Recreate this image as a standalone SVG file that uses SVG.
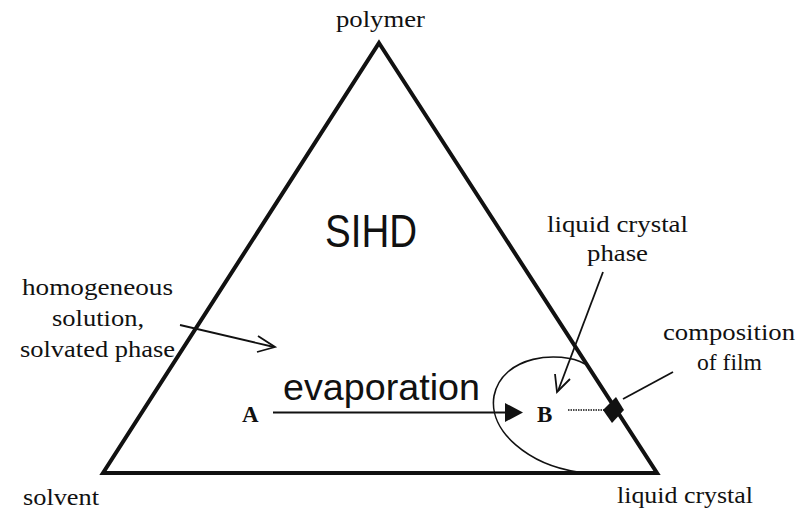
<svg xmlns="http://www.w3.org/2000/svg" width="809" height="510" viewBox="0 0 809 510">
<defs>
<style>
.serif{font-family:"Liberation Serif","Times New Roman",serif;font-size:24px;fill:#111}
.bold{font-family:"Liberation Serif","Times New Roman",serif;font-size:23px;font-weight:bold;fill:#111}
.sans{font-family:"Liberation Sans",Arial,sans-serif;fill:#111}
.ln{fill:none;stroke:#111;stroke-width:2}
.open{fill:none;stroke:#111;stroke-width:1.8;stroke-linejoin:miter}
</style>
</defs>
<rect width="809" height="510" fill="#fff"/>
<g id="triangle">
<polygon points="379,43 657,473 103,473" fill="none" stroke="#111" stroke-width="4" stroke-linejoin="miter"/>
</g>
<g id="lc-region">
<path d="M585,364 C560,350 502,355 494,396 C488,432 530,465 578,472" fill="none" stroke="#111" stroke-width="1.6"/>
</g>
<g id="labels">
<text class="serif" x="336" y="27" textLength="89" lengthAdjust="spacingAndGlyphs">polymer</text>
<text class="serif" x="23" y="505" textLength="76" lengthAdjust="spacingAndGlyphs">solvent</text>
<text class="serif" x="617" y="503" textLength="136" lengthAdjust="spacingAndGlyphs">liquid crystal</text>
<text class="sans" x="325" y="247" font-size="47" textLength="92" lengthAdjust="spacingAndGlyphs">SIHD</text>
</g>
<g id="homogeneous">
<text class="serif" x="22" y="295" textLength="151" lengthAdjust="spacingAndGlyphs">homogeneous</text>
<text class="serif" x="52" y="326" textLength="92" lengthAdjust="spacingAndGlyphs">solution,</text>
<text class="serif" x="20" y="357" textLength="155" lengthAdjust="spacingAndGlyphs">solvated phase</text>
</g>
<g id="lc-phase">
<text class="serif" x="547" y="232" textLength="141" lengthAdjust="spacingAndGlyphs">liquid crystal</text>
<text class="serif" x="587" y="261" textLength="61" lengthAdjust="spacingAndGlyphs">phase</text>
</g>
<g id="composition">
<text class="serif" x="663" y="340" textLength="132" lengthAdjust="spacingAndGlyphs">composition</text>
<text class="serif" x="697" y="370" textLength="65" lengthAdjust="spacingAndGlyphs">of film</text>
<polygon points="616,397 624,410 612,423 603,410" fill="#111"/>
</g>
<g id="pointA"><text class="bold" x="242" y="422">A</text></g>
<g id="pointB"><text class="bold" x="537" y="422">B</text></g>
<g id="evaporation-label">
<text class="sans" x="283" y="400" font-size="37" textLength="197" lengthAdjust="spacingAndGlyphs">evaporation</text>
</g>
<g id="connectors">
<line class="ln" x1="273" y1="412.5" x2="508" y2="412.5"/>
<polygon points="505,403 523,412.5 505,422" fill="#111"/>
<line x1="568" y1="410" x2="605" y2="410" stroke="#111" stroke-width="1.3" stroke-dasharray="1.5,1"/>
<line x1="180" y1="325" x2="274" y2="347" stroke="#111" stroke-width="1.8"/>
<polyline class="open" points="258,336 275,347 257,352"/>
<line x1="603" y1="272" x2="558" y2="391" stroke="#111" stroke-width="1.8"/>
<polyline class="open" points="555,374 557,392 570,379"/>
<line x1="673" y1="372" x2="623" y2="399" stroke="#111" stroke-width="1.8"/>
</g>
</svg>
